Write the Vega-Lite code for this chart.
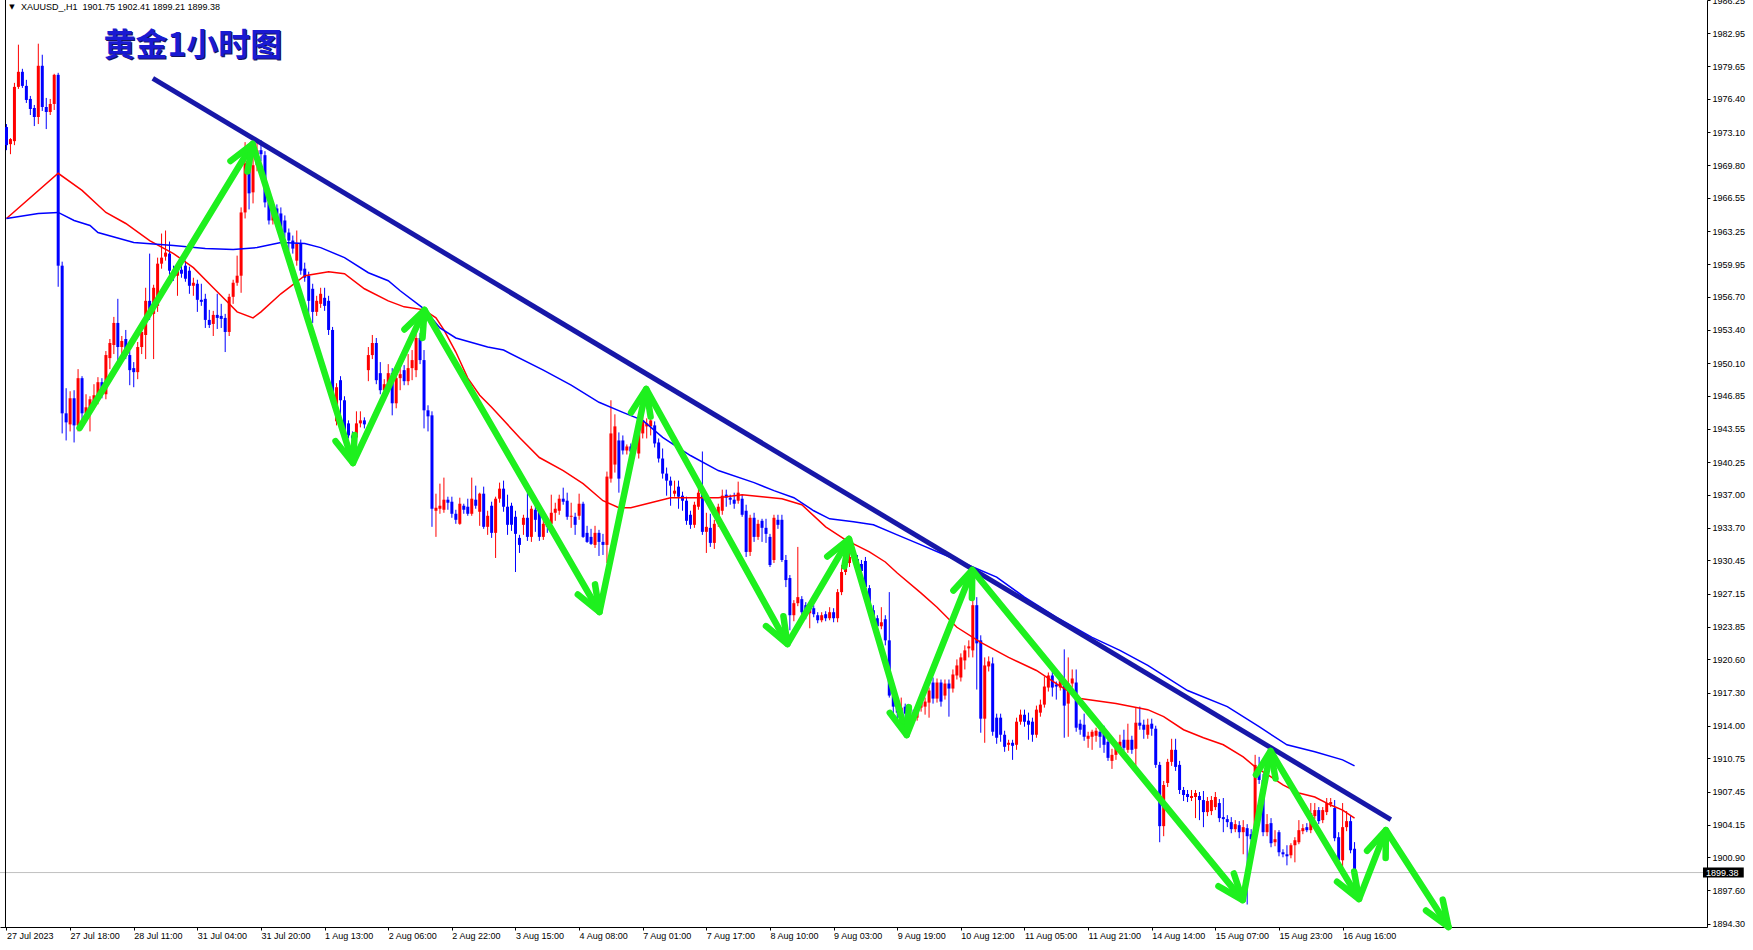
{
"$schema":"https://vega.github.io/schema/vega-lite/v6.json",
"width":1707,"height":927,
"autosize":{"type":"none"},
"padding":{"left":0,"top":0,"right":46,"bottom":23},
"background":"white",
"config":{"view":{"stroke":null},"font":"Liberation Sans","axis":{"grid":false,"labelOverlap":false,"labelSeparation":0,"labelFontSize":9,"labelFont":"Liberation Sans","labelColor":"#000000"}},
"datasets":{
"c":[
{"i":0,"o":1973.6,"h":1973.9,"l":1971.3,"c":1971.8},{"i":1,"o":1971.9,"h":1972.5,"l":1970.9,"c":1972.4},{"i":2,"o":1972.2,"h":1978.0,"l":1971.8,"c":1977.6},{"i":3,"o":1977.6,"h":1981.8,"l":1977.4,"c":1979.1},{"i":4,"o":1979.1,"h":1979.4,"l":1977.5,"c":1977.7},{"i":5,"o":1977.7,"h":1978.3,"l":1976.0,"c":1976.3},{"i":6,"o":1976.4,"h":1976.7,"l":1974.8,"c":1975.4},{"i":7,"o":1975.5,"h":1975.8,"l":1973.7,"c":1974.6},{"i":8,"o":1974.6,"h":1981.9,"l":1973.9,"c":1979.7},{"i":9,"o":1979.7,"h":1980.8,"l":1975.2,"c":1975.6},
{"i":10,"o":1975.6,"h":1976.5,"l":1973.4,"c":1975.1},{"i":11,"o":1975.1,"h":1976.4,"l":1974.8,"c":1975.9},{"i":12,"o":1975.9,"h":1978.9,"l":1975.3,"c":1978.8},{"i":13,"o":1978.8,"h":1979.0,"l":1957.7,"c":1959.8},{"i":14,"o":1959.8,"h":1960.2,"l":1943.1,"c":1945.1},{"i":15,"o":1945.1,"h":1947.6,"l":1942.4,"c":1944.2},{"i":16,"o":1944.0,"h":1947.3,"l":1943.3,"c":1946.6},{"i":17,"o":1946.6,"h":1947.4,"l":1942.2,"c":1943.9},{"i":18,"o":1943.9,"h":1949.5,"l":1943.3,"c":1948.6},{"i":19,"o":1948.6,"h":1948.8,"l":1944.2,"c":1945.1},
{"i":20,"o":1945.1,"h":1947.0,"l":1944.6,"c":1945.7},{"i":21,"o":1945.4,"h":1946.8,"l":1943.3,"c":1946.5},{"i":22,"o":1946.2,"h":1948.0,"l":1945.5,"c":1946.9},{"i":23,"o":1946.9,"h":1948.7,"l":1946.0,"c":1948.2},{"i":24,"o":1948.2,"h":1948.6,"l":1946.6,"c":1947.3},{"i":25,"o":1947.0,"h":1951.3,"l":1946.5,"c":1950.9},{"i":26,"o":1950.6,"h":1952.5,"l":1949.5,"c":1952.1},{"i":27,"o":1951.9,"h":1954.7,"l":1951.0,"c":1954.1},{"i":28,"o":1954.1,"h":1956.5,"l":1950.3,"c":1951.7},{"i":29,"o":1951.7,"h":1952.8,"l":1950.8,"c":1952.3},
{"i":30,"o":1952.5,"h":1953.4,"l":1950.5,"c":1950.9},{"i":31,"o":1950.9,"h":1951.3,"l":1947.9,"c":1949.4},{"i":32,"o":1949.6,"h":1950.2,"l":1947.7,"c":1949.2},{"i":33,"o":1949.2,"h":1952.2,"l":1948.5,"c":1951.7},{"i":34,"o":1951.7,"h":1954.0,"l":1951.0,"c":1953.2},{"i":35,"o":1952.9,"h":1957.6,"l":1950.5,"c":1956.3},{"i":36,"o":1956.3,"h":1961.0,"l":1954.4,"c":1955.0},{"i":37,"o":1955.0,"h":1957.9,"l":1950.5,"c":1957.6},{"i":38,"o":1955.8,"h":1960.6,"l":1955.2,"c":1960.0},{"i":39,"o":1960.0,"h":1963.0,"l":1959.5,"c":1960.6},
{"i":40,"o":1960.7,"h":1963.3,"l":1960.3,"c":1961.1},{"i":41,"o":1961.0,"h":1962.2,"l":1958.9,"c":1959.3},{"i":42,"o":1959.3,"h":1959.8,"l":1958.3,"c":1958.8},{"i":43,"o":1958.8,"h":1960.0,"l":1956.8,"c":1959.6},{"i":44,"o":1959.4,"h":1959.9,"l":1958.6,"c":1959.0},{"i":45,"o":1959.8,"h":1960.3,"l":1958.2,"c":1958.5},{"i":46,"o":1959.3,"h":1959.7,"l":1957.0,"c":1957.8},{"i":47,"o":1957.8,"h":1958.6,"l":1956.8,"c":1958.1},{"i":48,"o":1958.0,"h":1958.4,"l":1955.2,"c":1956.4},{"i":49,"o":1956.4,"h":1958.0,"l":1955.8,"c":1956.2},
{"i":50,"o":1956.5,"h":1957.0,"l":1953.6,"c":1954.4},{"i":51,"o":1954.4,"h":1955.4,"l":1953.6,"c":1953.9},{"i":52,"o":1954.0,"h":1955.3,"l":1952.8,"c":1954.9},{"i":53,"o":1954.9,"h":1957.0,"l":1953.5,"c":1954.6},{"i":54,"o":1954.8,"h":1956.0,"l":1953.6,"c":1954.5},{"i":55,"o":1954.6,"h":1955.0,"l":1951.2,"c":1953.2},{"i":56,"o":1953.2,"h":1957.0,"l":1952.8,"c":1956.7},{"i":57,"o":1956.7,"h":1958.4,"l":1956.0,"c":1958.1},{"i":58,"o":1958.1,"h":1960.8,"l":1957.8,"c":1958.8},{"i":59,"o":1958.8,"h":1965.6,"l":1957.1,"c":1965.1},
{"i":60,"o":1965.1,"h":1972.1,"l":1964.5,"c":1970.0},{"i":61,"o":1969.8,"h":1970.3,"l":1965.4,"c":1967.0},{"i":62,"o":1967.1,"h":1971.5,"l":1966.0,"c":1969.8},{"i":63,"o":1969.8,"h":1972.0,"l":1969.2,"c":1971.3},{"i":64,"o":1971.3,"h":1972.3,"l":1970.2,"c":1970.9},{"i":65,"o":1970.8,"h":1971.2,"l":1965.6,"c":1966.1},{"i":66,"o":1966.1,"h":1966.6,"l":1963.9,"c":1964.3},{"i":67,"o":1964.3,"h":1965.9,"l":1963.9,"c":1965.3},{"i":68,"o":1965.5,"h":1965.9,"l":1963.8,"c":1964.3},{"i":69,"o":1965.0,"h":1965.6,"l":1962.8,"c":1963.3},
{"i":70,"o":1964.3,"h":1964.8,"l":1962.6,"c":1963.1},{"i":71,"o":1963.1,"h":1963.5,"l":1961.3,"c":1962.3},{"i":72,"o":1962.3,"h":1962.8,"l":1961.0,"c":1961.5},{"i":73,"o":1960.3,"h":1963.3,"l":1959.8,"c":1962.0},{"i":74,"o":1962.0,"h":1962.4,"l":1958.9,"c":1959.3},{"i":75,"o":1959.5,"h":1960.1,"l":1958.2,"c":1958.6},{"i":76,"o":1958.8,"h":1959.2,"l":1954.3,"c":1956.3},{"i":77,"o":1957.5,"h":1958.0,"l":1954.1,"c":1955.2},{"i":78,"o":1955.2,"h":1956.8,"l":1954.8,"c":1956.3},{"i":79,"o":1956.0,"h":1957.6,"l":1955.6,"c":1957.0},
{"i":80,"o":1956.6,"h":1957.6,"l":1955.3,"c":1955.8},{"i":81,"o":1956.3,"h":1956.8,"l":1952.9,"c":1953.4},{"i":82,"o":1953.4,"h":1953.7,"l":1945.7,"c":1946.2},{"i":83,"o":1944.3,"h":1948.1,"l":1943.9,"c":1947.7},{"i":84,"o":1948.4,"h":1948.8,"l":1945.0,"c":1946.4},{"i":85,"o":1946.4,"h":1946.8,"l":1942.6,"c":1943.1},{"i":86,"o":1944.1,"h":1944.4,"l":1942.6,"c":1942.9},{"i":87,"o":1942.9,"h":1943.3,"l":1942.3,"c":1942.6},{"i":88,"o":1942.7,"h":1945.3,"l":1942.4,"c":1944.1},{"i":89,"o":1944.1,"h":1945.3,"l":1943.7,"c":1944.4},
{"i":90,"o":1944.4,"h":1944.7,"l":1943.6,"c":1944.0},{"i":91,"o":1949.4,"h":1951.7,"l":1948.3,"c":1950.9},{"i":92,"o":1950.9,"h":1952.9,"l":1950.5,"c":1952.1},{"i":93,"o":1952.1,"h":1952.6,"l":1948.0,"c":1948.4},{"i":94,"o":1949.1,"h":1950.2,"l":1947.0,"c":1947.4},{"i":95,"o":1947.4,"h":1948.5,"l":1946.6,"c":1948.0},{"i":96,"o":1947.7,"h":1950.0,"l":1947.2,"c":1949.1},{"i":97,"o":1949.1,"h":1949.6,"l":1944.9,"c":1946.1},{"i":98,"o":1946.1,"h":1949.0,"l":1945.6,"c":1948.6},{"i":99,"o":1948.6,"h":1950.0,"l":1947.4,"c":1949.0},
{"i":100,"o":1949.4,"h":1949.9,"l":1947.9,"c":1948.3},{"i":101,"o":1948.3,"h":1951.0,"l":1947.9,"c":1949.6},{"i":102,"o":1949.6,"h":1951.4,"l":1948.4,"c":1950.4},{"i":103,"o":1949.4,"h":1953.0,"l":1948.7,"c":1952.6},{"i":104,"o":1952.6,"h":1953.1,"l":1950.0,"c":1950.4},{"i":105,"o":1950.4,"h":1951.4,"l":1943.6,"c":1945.4},{"i":106,"o":1945.4,"h":1945.9,"l":1943.3,"c":1944.8},{"i":107,"o":1944.9,"h":1945.3,"l":1933.8,"c":1935.6},{"i":108,"o":1935.4,"h":1937.1,"l":1932.8,"c":1935.7},{"i":109,"o":1935.6,"h":1938.1,"l":1935.1,"c":1935.9},
{"i":110,"o":1935.5,"h":1938.7,"l":1935.2,"c":1936.5},{"i":111,"o":1936.5,"h":1936.8,"l":1935.5,"c":1936.2},{"i":112,"o":1936.3,"h":1936.8,"l":1934.7,"c":1935.1},{"i":113,"o":1935.1,"h":1935.5,"l":1934.1,"c":1934.5},{"i":114,"o":1934.1,"h":1936.7,"l":1934.0,"c":1936.1},{"i":115,"o":1935.9,"h":1936.1,"l":1935.1,"c":1935.5},{"i":116,"o":1935.8,"h":1936.6,"l":1934.9,"c":1935.1},{"i":117,"o":1935.1,"h":1938.7,"l":1934.9,"c":1936.6},{"i":118,"o":1936.5,"h":1937.9,"l":1935.6,"c":1935.9},{"i":119,"o":1935.3,"h":1937.2,"l":1933.9,"c":1937.1},
{"i":120,"o":1937.1,"h":1937.8,"l":1933.6,"c":1933.8},{"i":121,"o":1933.8,"h":1935.4,"l":1933.0,"c":1934.9},{"i":122,"o":1935.9,"h":1936.3,"l":1932.7,"c":1933.2},{"i":123,"o":1933.2,"h":1936.8,"l":1930.7,"c":1936.6},{"i":124,"o":1936.6,"h":1938.2,"l":1936.2,"c":1937.6},{"i":125,"o":1937.6,"h":1938.4,"l":1935.3,"c":1935.8},{"i":126,"o":1935.8,"h":1937.0,"l":1933.0,"c":1934.0},{"i":127,"o":1935.9,"h":1936.2,"l":1933.4,"c":1934.0},{"i":128,"o":1934.8,"h":1935.4,"l":1929.3,"c":1933.1},{"i":129,"o":1932.7,"h":1933.0,"l":1931.2,"c":1932.0},
{"i":130,"o":1934.0,"h":1935.0,"l":1933.0,"c":1934.7},{"i":131,"o":1934.7,"h":1937.2,"l":1932.4,"c":1932.8},{"i":132,"o":1932.8,"h":1935.9,"l":1932.3,"c":1935.6},{"i":133,"o":1935.5,"h":1936.3,"l":1933.3,"c":1934.5},{"i":134,"o":1935.5,"h":1935.9,"l":1932.4,"c":1932.8},{"i":135,"o":1932.8,"h":1934.5,"l":1932.5,"c":1934.1},{"i":136,"o":1934.2,"h":1934.6,"l":1933.2,"c":1933.8},{"i":137,"o":1934.1,"h":1937.0,"l":1933.8,"c":1935.2},{"i":138,"o":1935.2,"h":1936.2,"l":1934.4,"c":1935.6},{"i":139,"o":1935.4,"h":1937.0,"l":1935.0,"c":1936.6},
{"i":140,"o":1936.6,"h":1937.7,"l":1936.0,"c":1936.3},{"i":141,"o":1936.4,"h":1937.2,"l":1934.5,"c":1934.8},{"i":142,"o":1934.8,"h":1936.2,"l":1933.7,"c":1934.9},{"i":143,"o":1934.8,"h":1935.2,"l":1933.0,"c":1934.0},{"i":144,"o":1934.9,"h":1937.1,"l":1934.5,"c":1936.1},{"i":145,"o":1936.1,"h":1936.3,"l":1932.7,"c":1932.8},{"i":146,"o":1933.2,"h":1933.9,"l":1932.2,"c":1932.3},{"i":147,"o":1932.8,"h":1933.6,"l":1932.0,"c":1932.1},{"i":148,"o":1932.0,"h":1933.9,"l":1931.7,"c":1933.2},{"i":149,"o":1933.2,"h":1933.5,"l":1930.9,"c":1932.3},
{"i":150,"o":1932.3,"h":1933.1,"l":1931.0,"c":1932.0},{"i":151,"o":1932.0,"h":1939.3,"l":1930.2,"c":1938.8},{"i":152,"o":1938.6,"h":1946.4,"l":1938.2,"c":1943.1},{"i":153,"o":1940.0,"h":1945.0,"l":1939.2,"c":1943.8},{"i":154,"o":1942.4,"h":1943.2,"l":1937.2,"c":1938.6},{"i":155,"o":1942.4,"h":1942.9,"l":1941.0,"c":1941.4},{"i":156,"o":1941.4,"h":1942.0,"l":1941.0,"c":1941.8},{"i":157,"o":1941.8,"h":1942.1,"l":1940.8,"c":1941.3},{"i":158,"o":1941.6,"h":1943.3,"l":1941.1,"c":1942.7},{"i":159,"o":1941.1,"h":1944.9,"l":1940.6,"c":1944.1},
{"i":160,"o":1943.1,"h":1945.0,"l":1942.6,"c":1944.4},{"i":161,"o":1943.8,"h":1944.6,"l":1942.6,"c":1944.1},{"i":162,"o":1943.8,"h":1945.3,"l":1942.9,"c":1944.4},{"i":163,"o":1943.9,"h":1944.3,"l":1941.7,"c":1942.1},{"i":164,"o":1942.2,"h":1942.6,"l":1940.2,"c":1940.6},{"i":165,"o":1940.6,"h":1941.6,"l":1938.6,"c":1939.1},{"i":166,"o":1939.1,"h":1939.7,"l":1936.9,"c":1938.4},{"i":167,"o":1938.4,"h":1938.8,"l":1935.9,"c":1937.9},{"i":168,"o":1937.1,"h":1938.4,"l":1936.8,"c":1937.4},{"i":169,"o":1937.8,"h":1938.4,"l":1935.6,"c":1936.8},
{"i":170,"o":1936.9,"h":1937.3,"l":1935.4,"c":1936.4},{"i":171,"o":1936.4,"h":1936.8,"l":1934.0,"c":1934.4},{"i":172,"o":1935.0,"h":1935.4,"l":1933.6,"c":1934.0},{"i":173,"o":1934.0,"h":1936.3,"l":1933.7,"c":1936.0},{"i":174,"o":1935.8,"h":1938.0,"l":1935.5,"c":1937.2},{"i":175,"o":1937.4,"h":1941.3,"l":1933.0,"c":1933.3},{"i":176,"o":1933.3,"h":1935.2,"l":1931.2,"c":1933.8},{"i":177,"o":1933.7,"h":1935.1,"l":1931.8,"c":1932.2},{"i":178,"o":1932.2,"h":1934.5,"l":1931.6,"c":1934.1},{"i":179,"o":1934.1,"h":1936.1,"l":1933.8,"c":1935.8},
{"i":180,"o":1935.4,"h":1937.5,"l":1935.0,"c":1936.9},{"i":181,"o":1937.0,"h":1937.5,"l":1935.8,"c":1936.7},{"i":182,"o":1936.7,"h":1937.0,"l":1936.0,"c":1936.5},{"i":183,"o":1936.5,"h":1937.2,"l":1935.6,"c":1936.1},{"i":184,"o":1936.4,"h":1938.3,"l":1936.1,"c":1937.2},{"i":185,"o":1936.6,"h":1937.0,"l":1934.8,"c":1935.0},{"i":186,"o":1935.4,"h":1936.0,"l":1930.8,"c":1931.3},{"i":187,"o":1931.3,"h":1935.0,"l":1930.9,"c":1934.7},{"i":188,"o":1934.7,"h":1935.2,"l":1932.3,"c":1932.8},{"i":189,"o":1932.8,"h":1934.5,"l":1932.5,"c":1934.1},
{"i":190,"o":1934.4,"h":1934.6,"l":1932.3,"c":1933.7},{"i":191,"o":1933.7,"h":1934.6,"l":1932.2,"c":1933.1},{"i":192,"o":1932.8,"h":1933.1,"l":1929.8,"c":1930.0},{"i":193,"o":1930.5,"h":1935.0,"l":1930.2,"c":1934.7},{"i":194,"o":1934.5,"h":1935.0,"l":1933.6,"c":1934.0},{"i":195,"o":1934.5,"h":1935.0,"l":1930.3,"c":1930.5},{"i":196,"o":1930.5,"h":1931.0,"l":1927.8,"c":1928.5},{"i":197,"o":1928.7,"h":1929.0,"l":1923.5,"c":1925.0},{"i":198,"o":1925.0,"h":1926.5,"l":1924.4,"c":1926.2},{"i":199,"o":1926.2,"h":1931.8,"l":1925.9,"c":1926.8},
{"i":200,"o":1926.6,"h":1926.9,"l":1924.9,"c":1925.3},{"i":201,"o":1926.0,"h":1926.3,"l":1924.6,"c":1925.2},{"i":202,"o":1925.2,"h":1926.0,"l":1923.7,"c":1925.7},{"i":203,"o":1925.7,"h":1926.0,"l":1924.8,"c":1925.1},{"i":204,"o":1925.0,"h":1925.3,"l":1924.2,"c":1924.5},{"i":205,"o":1924.5,"h":1925.3,"l":1924.3,"c":1925.0},{"i":206,"o":1925.1,"h":1925.4,"l":1924.4,"c":1924.7},{"i":207,"o":1924.7,"h":1925.8,"l":1924.5,"c":1925.3},{"i":208,"o":1925.3,"h":1925.7,"l":1924.3,"c":1924.7},{"i":209,"o":1924.7,"h":1927.6,"l":1924.3,"c":1927.3},
{"i":210,"o":1927.3,"h":1930.0,"l":1927.0,"c":1929.3},{"i":211,"o":1929.3,"h":1930.3,"l":1929.0,"c":1929.9},{"i":212,"o":1930.2,"h":1932.0,"l":1929.8,"c":1930.8},{"i":213,"o":1931.5,"h":1932.2,"l":1930.2,"c":1930.6},{"i":214,"o":1930.6,"h":1931.0,"l":1929.5,"c":1929.9},{"i":215,"o":1930.1,"h":1930.5,"l":1929.0,"c":1929.4},{"i":216,"o":1930.4,"h":1930.8,"l":1927.5,"c":1927.8},{"i":217,"o":1927.7,"h":1928.0,"l":1925.6,"c":1926.0},{"i":218,"o":1925.5,"h":1926.0,"l":1924.0,"c":1924.7},{"i":219,"o":1924.7,"h":1925.0,"l":1923.2,"c":1923.9},
{"i":220,"o":1923.9,"h":1925.8,"l":1923.6,"c":1924.3},{"i":221,"o":1924.6,"h":1925.0,"l":1922.0,"c":1922.5},{"i":222,"o":1922.5,"h":1927.3,"l":1916.8,"c":1917.0},{"i":223,"o":1917.0,"h":1917.3,"l":1915.0,"c":1915.9},{"i":224,"o":1915.9,"h":1916.3,"l":1914.6,"c":1915.3},{"i":225,"o":1915.4,"h":1916.8,"l":1914.5,"c":1915.8},{"i":226,"o":1915.9,"h":1916.2,"l":1914.8,"c":1915.2},{"i":227,"o":1915.2,"h":1916.0,"l":1914.7,"c":1915.6},{"i":228,"o":1915.3,"h":1915.6,"l":1914.2,"c":1914.6},{"i":229,"o":1914.8,"h":1916.2,"l":1914.5,"c":1915.8},
{"i":230,"o":1915.8,"h":1916.9,"l":1915.4,"c":1916.3},{"i":231,"o":1915.9,"h":1916.8,"l":1915.1,"c":1916.4},{"i":232,"o":1916.3,"h":1917.8,"l":1914.8,"c":1917.5},{"i":233,"o":1918.3,"h":1918.8,"l":1916.2,"c":1916.7},{"i":234,"o":1916.7,"h":1918.7,"l":1916.3,"c":1918.3},{"i":235,"o":1918.3,"h":1918.6,"l":1915.9,"c":1916.4},{"i":236,"o":1917.0,"h":1918.6,"l":1916.6,"c":1918.2},{"i":237,"o":1918.2,"h":1918.6,"l":1914.9,"c":1917.7},{"i":238,"o":1917.7,"h":1919.6,"l":1917.3,"c":1919.1},{"i":239,"o":1919.0,"h":1920.6,"l":1918.6,"c":1920.0},
{"i":240,"o":1918.8,"h":1921.2,"l":1918.4,"c":1920.8},{"i":241,"o":1920.5,"h":1922.0,"l":1919.6,"c":1921.5},{"i":242,"o":1921.7,"h":1922.5,"l":1920.8,"c":1921.9},{"i":243,"o":1921.5,"h":1927.5,"l":1920.8,"c":1926.0},{"i":244,"o":1926.0,"h":1926.8,"l":1917.6,"c":1922.2},{"i":245,"o":1922.5,"h":1923.0,"l":1913.3,"c":1914.7},{"i":246,"o":1914.7,"h":1920.8,"l":1912.3,"c":1920.0},{"i":247,"o":1919.9,"h":1920.9,"l":1919.4,"c":1920.4},{"i":248,"o":1920.2,"h":1920.8,"l":1913.0,"c":1913.4},{"i":249,"o":1914.8,"h":1915.2,"l":1912.2,"c":1912.8},
{"i":250,"o":1914.8,"h":1915.2,"l":1912.4,"c":1913.1},{"i":251,"o":1913.1,"h":1913.5,"l":1911.4,"c":1911.9},{"i":252,"o":1912.1,"h":1912.6,"l":1911.5,"c":1912.3},{"i":253,"o":1912.3,"h":1912.6,"l":1910.6,"c":1912.0},{"i":254,"o":1912.1,"h":1914.8,"l":1911.6,"c":1914.4},{"i":255,"o":1914.4,"h":1915.6,"l":1914.1,"c":1915.1},{"i":256,"o":1915.1,"h":1915.6,"l":1913.9,"c":1914.4},{"i":257,"o":1914.5,"h":1915.3,"l":1912.6,"c":1914.1},{"i":258,"o":1914.4,"h":1914.8,"l":1912.4,"c":1913.1},{"i":259,"o":1913.1,"h":1916.0,"l":1912.8,"c":1915.6},
{"i":260,"o":1915.3,"h":1916.6,"l":1914.9,"c":1916.1},{"i":261,"o":1916.1,"h":1918.9,"l":1915.8,"c":1917.9},{"i":262,"o":1917.8,"h":1919.3,"l":1917.4,"c":1919.0},{"i":263,"o":1919.0,"h":1919.4,"l":1916.9,"c":1917.8},{"i":264,"o":1918.1,"h":1918.4,"l":1916.6,"c":1917.9},{"i":265,"o":1917.8,"h":1918.9,"l":1917.5,"c":1918.6},{"i":266,"o":1918.5,"h":1921.6,"l":1912.8,"c":1916.0},{"i":267,"o":1916.2,"h":1920.8,"l":1912.9,"c":1918.2},{"i":268,"o":1918.2,"h":1919.6,"l":1917.8,"c":1918.7},{"i":269,"o":1918.3,"h":1919.6,"l":1913.4,"c":1913.8},
{"i":270,"o":1914.2,"h":1914.6,"l":1913.1,"c":1913.6},{"i":271,"o":1914.1,"h":1915.2,"l":1912.5,"c":1912.9},{"i":272,"o":1912.7,"h":1913.4,"l":1911.8,"c":1913.0},{"i":273,"o":1912.9,"h":1913.6,"l":1911.6,"c":1913.4},{"i":274,"o":1913.0,"h":1913.8,"l":1912.4,"c":1913.5},{"i":275,"o":1913.4,"h":1914.1,"l":1911.8,"c":1912.9},{"i":276,"o":1913.2,"h":1914.0,"l":1911.3,"c":1912.1},{"i":277,"o":1912.4,"h":1912.8,"l":1910.5,"c":1910.8},{"i":278,"o":1910.5,"h":1911.7,"l":1909.7,"c":1911.1},{"i":279,"o":1911.1,"h":1912.2,"l":1910.6,"c":1911.8},
{"i":280,"o":1911.7,"h":1913.1,"l":1911.4,"c":1912.4},{"i":281,"o":1912.6,"h":1913.6,"l":1911.4,"c":1911.8},{"i":282,"o":1911.6,"h":1914.2,"l":1911.3,"c":1912.6},{"i":283,"o":1912.6,"h":1913.0,"l":1911.2,"c":1911.6},{"i":284,"o":1911.7,"h":1915.8,"l":1909.8,"c":1914.3},{"i":285,"o":1914.3,"h":1915.9,"l":1913.6,"c":1914.0},{"i":286,"o":1914.1,"h":1914.6,"l":1912.7,"c":1913.6},{"i":287,"o":1913.1,"h":1914.7,"l":1912.7,"c":1914.1},{"i":288,"o":1914.2,"h":1914.7,"l":1913.0,"c":1913.7},{"i":289,"o":1913.7,"h":1914.0,"l":1909.8,"c":1910.1},
{"i":290,"o":1910.1,"h":1910.4,"l":1902.4,"c":1904.0},{"i":291,"o":1904.0,"h":1908.5,"l":1903.0,"c":1908.1},{"i":292,"o":1908.3,"h":1910.7,"l":1907.9,"c":1910.4},{"i":293,"o":1910.4,"h":1912.7,"l":1910.0,"c":1911.6},{"i":294,"o":1911.6,"h":1912.7,"l":1909.5,"c":1909.9},{"i":295,"o":1910.1,"h":1910.5,"l":1907.2,"c":1907.6},{"i":296,"o":1907.6,"h":1907.9,"l":1906.5,"c":1907.1},{"i":297,"o":1907.2,"h":1907.6,"l":1906.4,"c":1906.9},{"i":298,"o":1906.8,"h":1907.6,"l":1906.5,"c":1907.0},{"i":299,"o":1906.9,"h":1907.6,"l":1904.8,"c":1907.3},
{"i":300,"o":1907.0,"h":1907.4,"l":1904.6,"c":1906.6},{"i":301,"o":1906.6,"h":1907.5,"l":1903.9,"c":1905.4},{"i":302,"o":1905.4,"h":1906.9,"l":1905.0,"c":1906.5},{"i":303,"o":1905.5,"h":1907.0,"l":1905.1,"c":1906.6},{"i":304,"o":1905.9,"h":1907.4,"l":1905.6,"c":1906.9},{"i":305,"o":1906.3,"h":1906.7,"l":1904.4,"c":1904.8},{"i":306,"o":1904.9,"h":1906.8,"l":1903.4,"c":1904.7},{"i":307,"o":1904.7,"h":1905.1,"l":1903.9,"c":1904.4},{"i":308,"o":1904.4,"h":1904.9,"l":1903.3,"c":1903.7},{"i":309,"o":1903.7,"h":1904.6,"l":1903.4,"c":1904.2},
{"i":310,"o":1904.1,"h":1904.5,"l":1902.8,"c":1903.4},{"i":311,"o":1903.4,"h":1904.6,"l":1901.2,"c":1903.9},{"i":312,"o":1903.8,"h":1904.2,"l":1896.2,"c":1903.0},{"i":313,"o":1903.2,"h":1903.7,"l":1902.3,"c":1902.7},{"i":314,"o":1902.9,"h":1911.1,"l":1902.5,"c":1910.1},{"i":315,"o":1909.9,"h":1910.9,"l":1908.2,"c":1908.6},{"i":316,"o":1908.6,"h":1909.2,"l":1903.0,"c":1903.4},{"i":317,"o":1903.4,"h":1905.2,"l":1903.0,"c":1904.2},{"i":318,"o":1904.3,"h":1904.8,"l":1901.9,"c":1902.3},{"i":319,"o":1902.4,"h":1903.6,"l":1902.0,"c":1902.7},
{"i":320,"o":1903.4,"h":1903.6,"l":1901.0,"c":1901.4},{"i":321,"o":1901.4,"h":1901.7,"l":1900.9,"c":1901.2},{"i":322,"o":1901.2,"h":1902.1,"l":1900.1,"c":1901.0},{"i":323,"o":1901.1,"h":1902.3,"l":1900.8,"c":1902.1},{"i":324,"o":1902.1,"h":1902.9,"l":1900.4,"c":1902.6},{"i":325,"o":1902.4,"h":1904.6,"l":1902.2,"c":1903.6},{"i":326,"o":1903.5,"h":1904.2,"l":1903.2,"c":1903.8},{"i":327,"o":1903.9,"h":1904.3,"l":1903.4,"c":1903.6},{"i":328,"o":1903.6,"h":1906.3,"l":1903.3,"c":1905.3},{"i":329,"o":1905.0,"h":1906.3,"l":1904.7,"c":1905.6},
{"i":330,"o":1905.6,"h":1905.9,"l":1904.2,"c":1904.5},{"i":331,"o":1904.6,"h":1905.9,"l":1904.3,"c":1905.6},{"i":332,"o":1905.4,"h":1906.8,"l":1905.1,"c":1906.3},{"i":333,"o":1906.2,"h":1906.8,"l":1905.9,"c":1906.4},{"i":334,"o":1905.8,"h":1906.6,"l":1902.5,"c":1902.8},{"i":335,"o":1902.9,"h":1903.4,"l":1900.2,"c":1900.6},{"i":336,"o":1900.6,"h":1906.3,"l":1899.6,"c":1903.9},{"i":337,"o":1903.9,"h":1905.5,"l":1903.5,"c":1904.5},{"i":338,"o":1904.5,"h":1905.0,"l":1901.3,"c":1901.6},{"i":339,"o":1901.75,"h":1902.41,"l":1899.21,"c":1899.38}
],
"mar":[
{"i":0,"v":1964.5},{"i":13,"v":1969.0},{"i":19,"v":1967.3},{"i":25,"v":1965.1},{"i":30,"v":1964.0},{"i":36,"v":1962.3},{"i":42,"v":1961.0},{"i":47,"v":1959.6},{"i":52,"v":1957.6},{"i":56,"v":1956.0},{"i":58,"v":1955.2},{"i":62,"v":1954.6},{"i":64,"v":1955.2},{"i":69,"v":1957.0},{"i":75,"v":1958.8},{"i":81,"v":1959.2},{"i":85,"v":1959.0},{"i":90,"v":1957.5},{"i":96,"v":1956.3},{"i":100,"v":1955.7},{"i":105,"v":1955.4},{"i":108,"v":1954.6},{"i":110,"v":1953.4},{"i":113,"v":1951.2},{"i":116,"v":1948.6},{"i":119,"v":1946.9},{"i":122,"v":1945.7},{"i":129,"v":1942.7},{"i":134,"v":1940.7},{"i":140,"v":1939.4},{"i":145,"v":1938.1},{"i":150,"v":1936.4},{"i":154,"v":1935.7},{"i":157,"v":1935.7},{"i":160,"v":1936.0},{"i":167,"v":1936.7},{"i":172,"v":1936.7},{"i":179,"v":1936.7},{"i":185,"v":1937.0},{"i":190,"v":1936.8},{"i":195,"v":1936.6},{"i":200,"v":1936.0},{"i":206,"v":1933.8},{"i":211,"v":1932.5},{"i":217,"v":1931.3},{"i":221,"v":1930.3},{"i":224,"v":1929.2},{"i":230,"v":1927.2},{"i":234,"v":1925.8},{"i":239,"v":1923.8},{"i":245,"v":1922.3},{"i":252,"v":1920.8},{"i":259,"v":1919.5},{"i":264,"v":1918.2},{"i":270,"v":1916.7},{"i":279,"v":1916.2},{"i":287,"v":1915.6},{"i":291,"v":1914.9},{"i":296,"v":1913.6},{"i":301,"v":1912.8},{"i":306,"v":1912.1},{"i":311,"v":1910.9},{"i":314,"v":1909.9},{"i":318,"v":1908.9},{"i":321,"v":1908.1},{"i":325,"v":1907.3},{"i":329,"v":1906.9},{"i":333,"v":1906.1},{"i":336,"v":1905.6},{"i":339,"v":1904.8}
],
"mab":[
{"i":0,"v":1964.5},{"i":8,"v":1965.0},{"i":13,"v":1965.1},{"i":17,"v":1964.3},{"i":21,"v":1963.8},{"i":23,"v":1963.1},{"i":32,"v":1962.1},{"i":42,"v":1961.8},{"i":50,"v":1961.5},{"i":57,"v":1961.4},{"i":63,"v":1961.6},{"i":69,"v":1962.1},{"i":75,"v":1962.0},{"i":79,"v":1961.6},{"i":85,"v":1960.6},{"i":91,"v":1959.1},{"i":96,"v":1958.3},{"i":99,"v":1957.3},{"i":105,"v":1955.5},{"i":109,"v":1953.6},{"i":113,"v":1952.6},{"i":121,"v":1951.7},{"i":125,"v":1951.4},{"i":135,"v":1949.4},{"i":142,"v":1947.9},{"i":149,"v":1946.2},{"i":155,"v":1945.2},{"i":160,"v":1944.4},{"i":165,"v":1942.7},{"i":172,"v":1940.9},{"i":179,"v":1939.4},{"i":188,"v":1938.2},{"i":193,"v":1937.4},{"i":198,"v":1936.7},{"i":203,"v":1935.4},{"i":207,"v":1934.6},{"i":213,"v":1934.3},{"i":218,"v":1934.0},{"i":224,"v":1933.0},{"i":230,"v":1932.0},{"i":236,"v":1931.0},{"i":243,"v":1929.8},{"i":249,"v":1928.8},{"i":256,"v":1926.8},{"i":264,"v":1924.8},{"i":273,"v":1922.8},{"i":280,"v":1921.5},{"i":287,"v":1920.0},{"i":297,"v":1917.5},{"i":307,"v":1915.9},{"i":315,"v":1913.9},{"i":322,"v":1912.1},{"i":329,"v":1911.4},{"i":336,"v":1910.6},{"i":339,"v":1910.0}
],
"trend":[{"i":36.8,"v":1978.45},{"i":348.125,"v":1904.66}],
"green":[
{"g":0,"k":1,"i":18.375,"v":1943.64},{"g":0,"k":2,"i":61.875,"v":1971.91},{"g":0,"k":3,"i":87.125,"v":1940.15},{"g":0,"k":4,"i":105.125,"v":1955.39},{"g":0,"k":5,"i":149.125,"v":1925.32},{"g":0,"k":6,"i":160.875,"v":1947.52},{"g":0,"k":7,"i":196.375,"v":1922.13},{"g":0,"k":8,"i":211.875,"v":1932.59},{"g":0,"k":9,"i":226.375,"v":1913.07},{"g":0,"k":10,"i":242.875,"v":1929.50},{"g":0,"k":11,"i":310.875,"v":1896.64},{"g":0,"k":12,"i":317.875,"v":1911.48},{"g":0,"k":13,"i":340.125,"v":1896.74},{"g":0,"k":14,"i":346.875,"v":1903.61},{"g":0,"k":15,"i":362.625,"v":1893.96},
{"g":1,"k":1,"i":56.325,"v":1970.22},{"g":1,"k":2,"i":61.875,"v":1971.91},{"g":1,"k":3,"i":60.6,"v":1969.17},
{"g":2,"k":1,"i":87.55,"v":1942.94},{"g":2,"k":2,"i":87.125,"v":1940.15},{"g":2,"k":3,"i":82.75,"v":1942.33},
{"g":3,"k":1,"i":100.075,"v":1953.45},{"g":3,"k":2,"i":105.125,"v":1955.39},{"g":3,"k":3,"i":104.625,"v":1952.61},
{"g":4,"k":1,"i":148.0,"v":1928.07},{"g":4,"k":2,"i":149.125,"v":1925.32},{"g":4,"k":3,"i":143.675,"v":1927.06},
{"g":5,"k":1,"i":157.075,"v":1945.18},{"g":5,"k":2,"i":160.875,"v":1947.52},{"g":5,"k":3,"i":161.975,"v":1944.77},
{"g":6,"k":1,"i":195.375,"v":1924.89},{"g":6,"k":2,"i":196.375,"v":1922.13},{"g":6,"k":3,"i":191.0,"v":1923.92},
{"g":7,"k":1,"i":206.4,"v":1930.85},{"g":7,"k":2,"i":211.875,"v":1932.59},{"g":7,"k":3,"i":210.7,"v":1929.84},
{"g":8,"k":1,"i":226.925,"v":1915.85},{"g":8,"k":2,"i":226.375,"v":1913.07},{"g":8,"k":3,"i":222.125,"v":1915.28},
{"g":9,"k":1,"i":238.125,"v":1927.46},{"g":9,"k":2,"i":242.875,"v":1929.50},{"g":9,"k":3,"i":242.775,"v":1926.71},
{"g":10,"k":1,"i":308.65,"v":1899.29},{"g":10,"k":2,"i":310.875,"v":1896.64},{"g":10,"k":3,"i":304.775,"v":1898.02},
{"g":11,"k":1,"i":314.2,"v":1909.11},{"g":11,"k":2,"i":317.875,"v":1911.48},{"g":11,"k":3,"i":319.125,"v":1908.74},
{"g":12,"k":1,"i":338.9,"v":1899.49},{"g":12,"k":2,"i":340.125,"v":1896.74},{"g":12,"k":3,"i":334.6,"v":1898.46},
{"g":13,"k":1,"i":342.15,"v":1901.55},{"g":13,"k":2,"i":346.875,"v":1903.61},{"g":13,"k":3,"i":346.825,"v":1900.83},
{"g":14,"k":1,"i":361.175,"v":1896.69},{"g":14,"k":2,"i":362.625,"v":1893.96},{"g":14,"k":3,"i":356.975,"v":1895.60}
]
},
"layer":[
{"data":{"values":[{"v":1899.38}]},"mark":{"type":"rule","color":"#c0c0c0","strokeWidth":1},
 "encoding":{"y":{"field":"v","type":"quantitative","scale":{"domain":[1893.96,1986.25],"nice":false,"zero":false},"title":null}}},
{"data":{"values":[{"i":-0.25}]},"mark":{"type":"rule","color":"#000000","strokeWidth":1},
 "encoding":{"x":{"field":"i","type":"quantitative","scale":{"domain":[-0.375,426.375],"nice":false,"zero":false},"title":null}}},
{"data":{"name":"c"},"mark":{"type":"rule","strokeWidth":1},
 "encoding":{
  "x":{"field":"i","type":"quantitative","scale":{"domain":[-0.375,426.375],"nice":false,"zero":false},"title":null,
   "axis":{"orient":"bottom","values":[0,16,32,48,64,80,96,112,128,144,160,176,192,208,224,240,256,272,288,304,320,336],"tickCount":60,
    "labelExpr":"['27 Jul 2023','27 Jul 18:00','28 Jul 11:00','31 Jul 04:00','31 Jul 20:00','1 Aug 13:00','2 Aug 06:00','2 Aug 22:00','3 Aug 15:00','4 Aug 08:00','7 Aug 01:00','7 Aug 17:00','8 Aug 10:00','9 Aug 03:00','9 Aug 19:00','10 Aug 12:00','11 Aug 05:00','11 Aug 21:00','14 Aug 14:00','15 Aug 07:00','15 Aug 23:00','16 Aug 16:00'][round(datum.value/16)]",
    "labelAlign":"left","labelBaseline":"top","labelPadding":1,"tickSize":3,"tickColor":"#000000","domainColor":"#000000","labelColor":"#000000","labelFont":"Liberation Sans","labelFontSize":9,"grid":false,"labelOverlap":false,"labelFlush":false,"labelBound":false,"title":null}},
  "y":{"field":"l","type":"quantitative","scale":{"domain":[1893.96,1986.25],"nice":false,"zero":false},"title":null,
   "axis":{"orient":"right","values":[1894.30,1897.60,1900.90,1904.15,1907.45,1910.75,1914.00,1917.30,1920.60,1923.85,1927.15,1930.45,1933.70,1937.00,1940.25,1943.55,1946.85,1950.10,1953.40,1956.70,1959.95,1963.25,1966.55,1969.80,1973.10,1976.40,1979.65,1982.95,1986.25],"tickCount":60,
    "format":".2f","labelAlign":"left","labelBaseline":"middle","labelPadding":2,"tickSize":3,"tickColor":"#000000","domainColor":"#000000","labelColor":"#000000","labelFont":"Liberation Sans","labelFontSize":9,"grid":false,"labelOverlap":false,"labelSeparation":0,"labelFlush":false,"labelBound":false,"title":null}},
  "y2":{"field":"h"},
  "color":{"condition":{"test":"datum.c >= datum.o","value":"#ff0000"},"value":"#0000ff"}}},
{"data":{"name":"c"},"mark":{"type":"bar","width":3},
 "encoding":{
  "x":{"field":"i","type":"quantitative","scale":{"domain":[-0.375,426.375],"nice":false,"zero":false},"title":null},
  "y":{"field":"o","type":"quantitative","scale":{"domain":[1893.96,1986.25],"nice":false,"zero":false},"title":null},
  "y2":{"field":"c"},
  "color":{"condition":{"test":"datum.c >= datum.o","value":"#ff0000"},"value":"#0000ff"}}},
{"data":{"name":"mar"},"mark":{"type":"line","color":"#ff0000","strokeWidth":1.5},
 "encoding":{
  "x":{"field":"i","type":"quantitative","scale":{"domain":[-0.375,426.375],"nice":false,"zero":false},"title":null},
  "y":{"field":"v","type":"quantitative","scale":{"domain":[1893.96,1986.25],"nice":false,"zero":false},"title":null}}},
{"data":{"name":"mab"},"mark":{"type":"line","color":"#0000ff","strokeWidth":1.5},
 "encoding":{
  "x":{"field":"i","type":"quantitative","scale":{"domain":[-0.375,426.375],"nice":false,"zero":false},"title":null},
  "y":{"field":"v","type":"quantitative","scale":{"domain":[1893.96,1986.25],"nice":false,"zero":false},"title":null}}},
{"data":{"name":"trend"},"mark":{"type":"line","color":"#1717a8","strokeWidth":5},
 "encoding":{
  "x":{"field":"i","type":"quantitative","scale":{"domain":[-0.375,426.375],"nice":false,"zero":false},"title":null},
  "y":{"field":"v","type":"quantitative","scale":{"domain":[1893.96,1986.25],"nice":false,"zero":false},"title":null}}},
{"data":{"name":"green"},"mark":{"type":"line","color":"#1ef01e","strokeWidth":6.5,"strokeCap":"round","strokeJoin":"round"},
 "encoding":{
  "x":{"field":"i","type":"quantitative","scale":{"domain":[-0.375,426.375],"nice":false,"zero":false},"title":null},
  "y":{"field":"v","type":"quantitative","scale":{"domain":[1893.96,1986.25],"nice":false,"zero":false},"title":null},
  "detail":{"field":"g","type":"nominal"},
  "order":{"field":"k","type":"quantitative"}}},
{"data":{"values":[{"i":1.375,"v":1985.55,"t":"▼"}]},"mark":{"type":"text","fontSize":7,"font":"DejaVu Sans","color":"#000000","align":"center","baseline":"middle"},
 "encoding":{
  "x":{"field":"i","type":"quantitative","scale":{"domain":[-0.375,426.375],"nice":false,"zero":false},"title":null},
  "y":{"field":"v","type":"quantitative","scale":{"domain":[1893.96,1986.25],"nice":false,"zero":false},"title":null},
  "text":{"field":"t"}}},
{"data":{"values":[{"i":3.625,"v":1985.55,"t":"XAUUSD_,H1\u00a0\u00a01901.75 1902.41 1899.21 1899.38"}]},"mark":{"type":"text","fontSize":9,"font":"Liberation Sans","color":"#000000","align":"left","baseline":"middle"},
 "encoding":{
  "x":{"field":"i","type":"quantitative","scale":{"domain":[-0.375,426.375],"nice":false,"zero":false},"title":null},
  "y":{"field":"v","type":"quantitative","scale":{"domain":[1893.96,1986.25],"nice":false,"zero":false},"title":null},
  "text":{"field":"t"}}},
{"data":{"values":[{"i":24.375,"v":1981.7,"t":"黄金1小时图"}]},"mark":{"type":"text","fontSize":32,"font":"Noto Sans CJK SC","fontWeight":"bold","color":"#14145a","align":"left","baseline":"middle","dx":1,"dy":1},
 "encoding":{
  "x":{"field":"i","type":"quantitative","scale":{"domain":[-0.375,426.375],"nice":false,"zero":false},"title":null},
  "y":{"field":"v","type":"quantitative","scale":{"domain":[1893.96,1986.25],"nice":false,"zero":false},"title":null},
  "text":{"field":"t"}}},
{"data":{"values":[{"i":24.375,"v":1981.7,"t":"黄金1小时图"}]},"mark":{"type":"text","fontSize":32,"font":"Noto Sans CJK SC","fontWeight":"bold","color":"#1a1ad2","align":"left","baseline":"middle"},
 "encoding":{
  "x":{"field":"i","type":"quantitative","scale":{"domain":[-0.375,426.375],"nice":false,"zero":false},"title":null},
  "y":{"field":"v","type":"quantitative","scale":{"domain":[1893.96,1986.25],"nice":false,"zero":false},"title":null},
  "text":{"field":"t"}}},
{"data":{"values":[{"i":426.625,"i2":436.875,"v":1899.88,"v2":1898.88}]},"mark":{"type":"rect","color":"#000000"},
 "encoding":{
  "x":{"field":"i","type":"quantitative","scale":{"domain":[-0.375,426.375],"nice":false,"zero":false},"title":null},
  "x2":{"field":"i2"},
  "y":{"field":"v","type":"quantitative","scale":{"domain":[1893.96,1986.25],"nice":false,"zero":false},"title":null},
  "y2":{"field":"v2"}}},
{"data":{"values":[{"i":427.375,"v":1899.38,"t":"1899.38"}]},"mark":{"type":"text","fontSize":9,"font":"Liberation Sans","color":"#ffffff","align":"left","baseline":"middle"},
 "encoding":{
  "x":{"field":"i","type":"quantitative","scale":{"domain":[-0.375,426.375],"nice":false,"zero":false},"title":null},
  "y":{"field":"v","type":"quantitative","scale":{"domain":[1893.96,1986.25],"nice":false,"zero":false},"title":null},
  "text":{"field":"t"}}}
]
}
